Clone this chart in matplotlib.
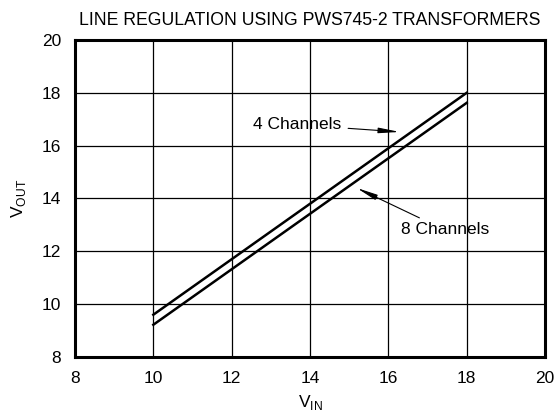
import matplotlib
matplotlib.use("Agg")
import matplotlib.pyplot as plt

plt.rcParams['font.family'] = ['Liberation Sans', 'DejaVu Sans']
plt.rcParams['mathtext.fontset'] = 'custom'
plt.rcParams['mathtext.rm'] = 'Liberation Sans'

vin = [10, 18]
vout_4ch = [9.6, 18.0]
vout_8ch = [9.22, 17.62]

fig = plt.figure(figsize=(5.58, 4.18), dpi=100)
ax = fig.add_axes([0.1344, 0.146, 0.8423, 0.7583])

ax.plot(vin, vout_4ch, color='black', lw=1.8)
ax.plot(vin, vout_8ch, color='black', lw=1.8)

ax.set_xlim(8, 20)
ax.set_ylim(8, 20)
ax.set_xticks([8, 10, 12, 14, 16, 18, 20])
ax.set_yticks([8, 10, 12, 14, 16, 18, 20])
ax.grid(True, color='black', lw=0.9)
ax.set_axisbelow(True)
for s in ax.spines.values():
    s.set_linewidth(2.2)
ax.tick_params(length=0, labelsize=12.5, pad=10)

ax.set_xlabel(r'V$_{\mathregular{IN}}$', fontsize=12.5, labelpad=5)
ax.set_ylabel(r'V$_{\mathregular{OUT}}$', fontsize=12.5, labelpad=10)
ax.set_title('LINE REGULATION USING PWS745-2 TRANSFORMERS', fontsize=12.7, pad=11)

arrow = dict(arrowstyle='-|>,head_length=1.0,head_width=0.13', color='black', lw=0.8,
             shrinkA=3, shrinkB=0)
ax.annotate('4 Channels', xy=(16.29, 16.52), xytext=(13.67, 16.79),
            fontsize=12.5, ha='center', va='center', arrowprops=arrow)
ax.annotate('8 Channels', xy=(15.19, 14.4), xytext=(17.44, 12.81),
            fontsize=12.5, ha='center', va='center', arrowprops=arrow)

fig.savefig('out.png', dpi=100)
